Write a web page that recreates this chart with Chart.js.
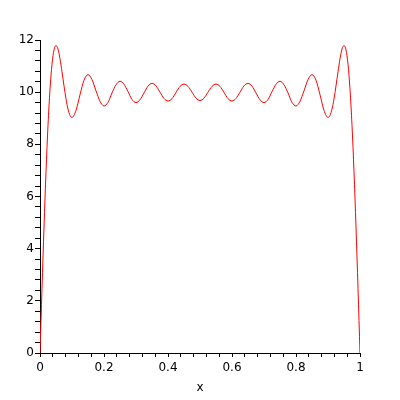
<!DOCTYPE html>
<html>
<head>
<meta charset="utf-8">
<script src="https://cdn.jsdelivr.net/npm/chart.js@4"></script>
<style>html,body{margin:0;padding:0;background:#fff;}canvas{display:block;}</style>
</head>
<body>
<canvas id="c" width="400" height="400"></canvas>
<script>
const xs = [0, 0.00625, 0.0125, 0.01875, 0.025, 0.03125, 0.0375, 0.04375, 0.05,
  0.05625, 0.0625, 0.06875, 0.075, 0.08125, 0.0875, 0.09375,
  0.1, 0.1125, 0.125, 0.1375, 0.15, 0.1625, 0.175, 0.1875, 0.2, 0.2125, 0.225, 0.2375,
  0.25, 0.2625, 0.275, 0.2875, 0.3, 0.3125, 0.325, 0.3375, 0.35, 0.3625, 0.375, 0.3875,
  0.4, 0.4125, 0.425, 0.4375, 0.45, 0.4625, 0.475, 0.4875, 0.5, 0.5125, 0.525, 0.5375,
  0.55, 0.5625, 0.575, 0.5875, 0.6, 0.6125, 0.625, 0.6375, 0.65, 0.6625, 0.675, 0.6875,
  0.7, 0.7125, 0.725, 0.7375, 0.75, 0.7625, 0.775, 0.7875, 0.8, 0.8125, 0.825, 0.8375,
  0.85, 0.8625, 0.875, 0.8875, 0.9,
  0.90625, 0.9125, 0.91875, 0.925, 0.93125, 0.9375, 0.94375,
  0.95, 0.95625, 0.9625, 0.96875, 0.975, 0.98125, 0.9875, 0.99375, 1];
const ys = [0, 2.48, 4.83, 6.95, 8.73, 10.11, 11.07, 11.62, 11.79,
  11.65, 11.28, 10.78, 10.24, 9.74, 9.35, 9.11,
  9.03, 9.30, 9.90, 10.46, 10.67, 10.48, 10.05, 9.65, 9.47, 9.61, 9.97, 10.28,
  10.42, 10.30, 10.02, 9.72, 9.60, 9.71, 9.97, 10.23, 10.34, 10.24, 10.00, 9.76,
  9.66, 9.75, 9.99, 10.22, 10.31, 10.22, 10.00, 9.77, 9.68, 9.77, 10.00, 10.22,
  10.31, 10.22, 9.99, 9.75, 9.66, 9.76, 10.00, 10.24, 10.34, 10.23, 9.97, 9.71,
  9.60, 9.72, 10.02, 10.30, 10.42, 10.28, 9.97, 9.61, 9.47, 9.65, 10.05, 10.48,
  10.67, 10.46, 9.90, 9.30, 9.03,
  9.11, 9.35, 9.74, 10.24, 10.78, 11.28, 11.65,
  11.79, 11.62, 11.07, 10.11, 8.73, 6.95, 4.83, 2.48, 0];
const xLabels = [0, 0.2, 0.4, 0.6, 0.8, 1];
const yLabels = [0, 2, 4, 6, 8, 10, 12];
const xTitle = 'x';

const points = xs.map((x, i) => ({x: x, y: ys[i]}));
const font = {family: 'DejaVu Sans', size: 12};
function isLabel(v, list) { return list.some(l => Math.abs(l - v) < 1e-6); }

new Chart(document.getElementById('c'), {
  type: 'line',
  data: { datasets: [{
    data: points,
    borderColor: '#ff0000',
    borderWidth: 1,
    pointRadius: 0,
    fill: false,
    cubicInterpolationMode: 'monotone'
  }]},
  options: {
    responsive: false,
    animation: false,
    layout: {padding: {top: 40, right: 40, left: 0, bottom: 0}},
    plugins: {legend: {display: false}, tooltip: {enabled: false}},
    scales: {
      x: {
        type: 'linear', min: 0, max: 1,
        afterFit(s) { s.height = 47; },
        ticks: {
          stepSize: 0.04, autoSkip: false, maxRotation: 0, minRotation: 0,
          padding: 4, color: '#000', font: font,
          callback(v) { return isLabel(v, xLabels) ? String(Math.round(v * 10) / 10) : ''; }
        },
        grid: {drawOnChartArea: false, drawTicks: true, tickLength: 4, color: '#000', lineWidth: 1},
        border: {color: '#000', width: 1},
        title: {display: true, text: xTitle, color: '#000', font: font, padding: {top: 0, bottom: 5}}
      },
      y: {
        type: 'linear', min: 0, max: 12,
        afterFit(s) { s.width = 40; },
        ticks: {
          stepSize: 0.4, autoSkip: false, padding: 1, color: '#000', font: font,
          callback(v) { return isLabel(v, yLabels) ? String(Math.round(v)) : ''; }
        },
        grid: {drawOnChartArea: false, drawTicks: true, tickLength: 5, color: '#000', lineWidth: 1},
        border: {color: '#000', width: 1}
      }
    }
  }
});
</script>
</body>
</html>
